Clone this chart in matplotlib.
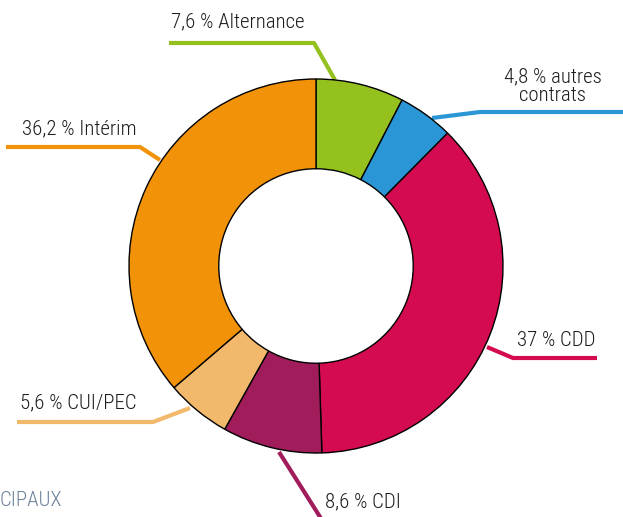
import matplotlib
matplotlib.use("Agg")
import matplotlib.pyplot as plt
from matplotlib import font_manager

names = {f.name for f in font_manager.fontManager.ttflist}
cands = ["Roboto Condensed", "Liberation Sans Narrow", "Open Sans Condensed",
         "Noto Sans Condensed", "DejaVu Sans Condensed", "Roboto", "DejaVu Sans"]
fam = [f for f in cands if f in names]
plt.rcParams['font.family'] = fam
condensed = fam[0] not in ("Roboto", "DejaVu Sans")
fs = 15 if condensed else 13.8

# data
categories = ["Alternance", "autres\ncontrats", "CDD", "CDI", "CUI/PEC", "Intérim"]
values = [7.6, 4.8, 37, 8.6, 5.6, 36.2]
value_labels = ["7,6 %", "4,8 %", "37 %", "8,6 %", "5,6 %", "36,2 %"]
colors = ["#95c11f", "#2b96d6", "#d40b50", "#a11c5a", "#f2b96c", "#f29208"]

W, H = 623, 517
fig = plt.figure(figsize=(W / 100, H / 100), dpi=100)
ax = fig.add_axes([0, 0, 1, 1])

cx, cy, R = 316, 266, 187
# y axis is inverted (pixel layout), so start at -90 and go counterclockwise in data
wedges, _ = ax.pie(values, colors=colors, startangle=-90, counterclock=True,
                   center=(cx, cy), radius=R, frame=True,
                   wedgeprops=dict(width=R * 0.48, edgecolor='black', linewidth=1.0))
ax.set_xlim(0, W)
ax.set_ylim(H, 0)
ax.set_aspect('equal')
ax.axis('off')

# leader lines (pixel layout) and label placement
leaders = [
    [(335, 80), (314, 43), (169, 43)],
    [(432, 118), (480, 112), (623, 112)],
    [(487, 347), (513, 358), (597, 358)],
    [(279, 452), (322, 520)],
    [(190, 408), (153, 422), (17, 422)],
    [(160, 160), (140, 147), (6, 147)],
]
text_pos = [
    (171, 22, 'left'),
    (553, 86, 'center'),
    (517, 340, 'left'),
    (325, 502, 'left'),
    (20, 403, 'left'),
    (22, 129, 'left'),
]
for i, (pts, (tx, ty, ha)) in enumerate(zip(leaders, text_pos)):
    xs, ys = zip(*pts)
    ax.plot(xs, ys, color=colors[i], lw=3, solid_capstyle='butt', zorder=0)
    ax.text(tx, ty, f"{value_labels[i]} {categories[i]}", ha=ha, va='center',
            fontsize=fs, fontweight='light', color='#1d1d1b', linespacing=1.0,
            multialignment='center')

ax.text(0, 500, "CIPAUX", ha='left', va='center', fontsize=fs, fontweight='light',
        color='#6d8299')

fig.savefig("out.png", dpi=100)
